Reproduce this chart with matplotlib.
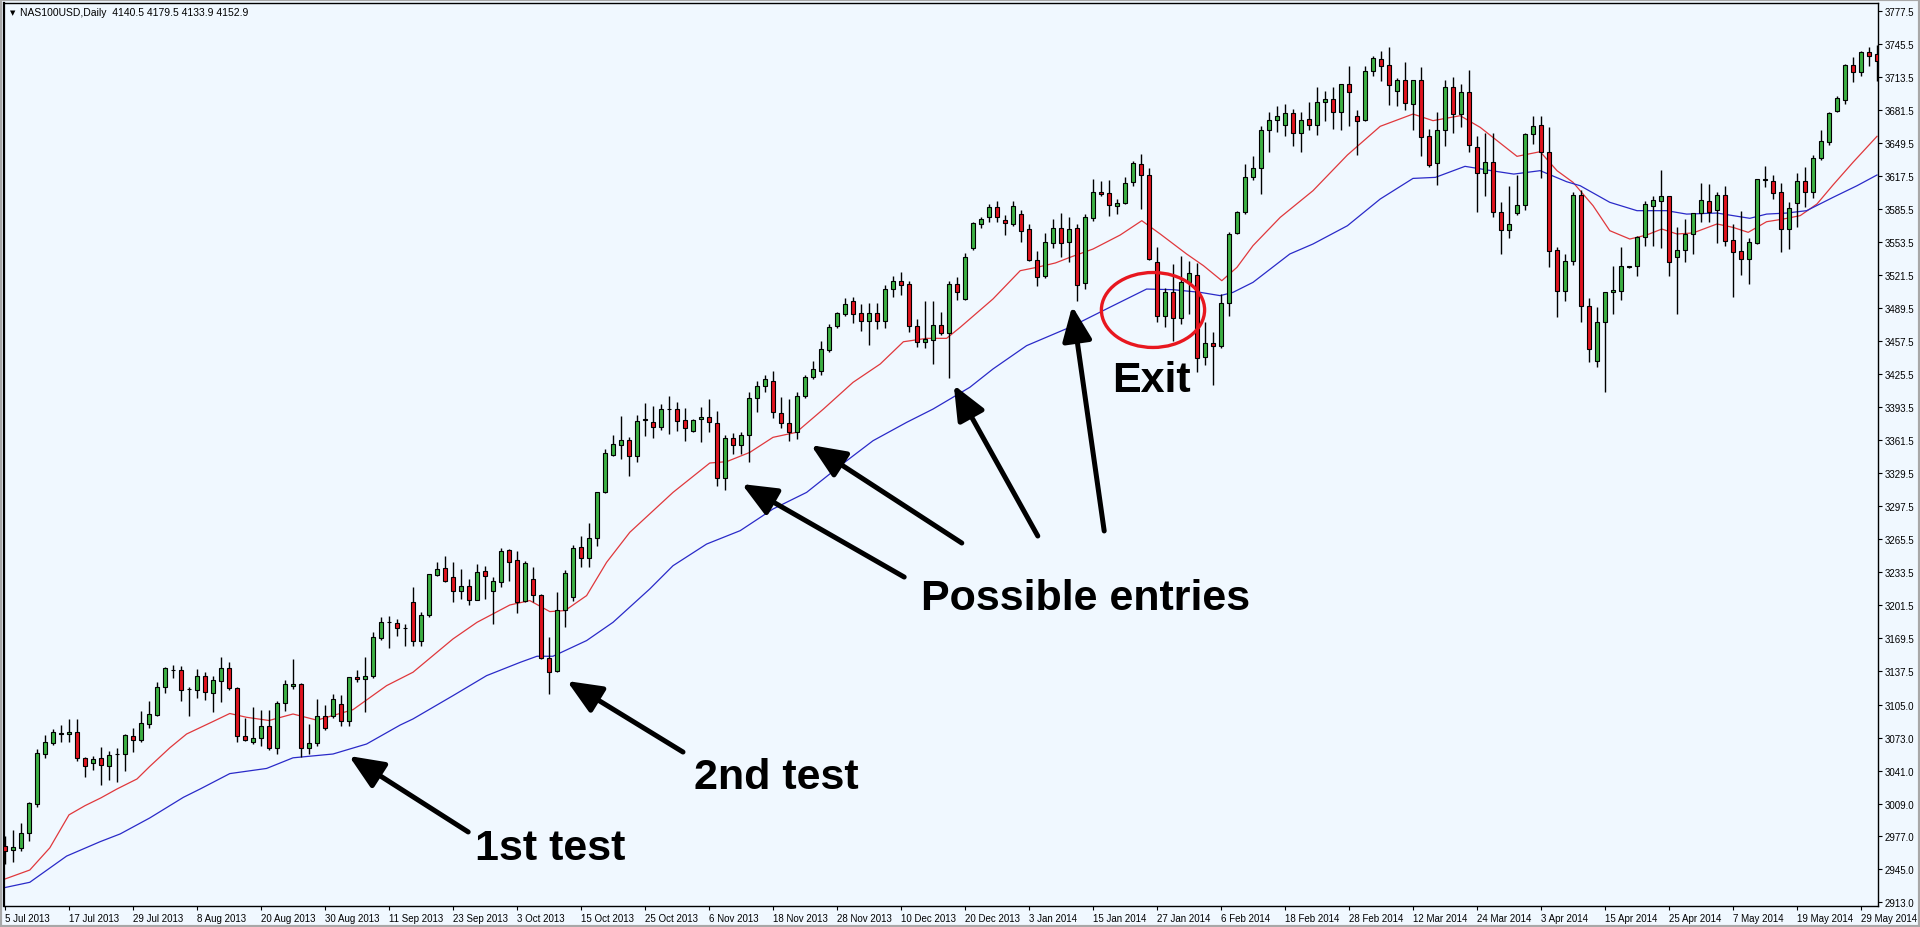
import matplotlib
matplotlib.use('Agg')
import matplotlib.pyplot as plt
from matplotlib.patches import Ellipse, FancyArrowPatch, Rectangle, ArrowStyle
import numpy as np

# daily candles (one per trading day, 5 Jul 2013 .. early Jun 2014)
opens = [
    2968.2, 2964.3, 2965.9, 2980.1, 3008.2, 3057.1, 3067.4, 3076.8, 3076.1, 3078.1,
    3052.8, 3048.0, 3052.8, 3045.7, 3057.0, 3057.4, 3074.2, 3071.0, 3086.5, 3095.2,
    3121.7, 3138.5, 3138.2, 3120.1, 3119.4, 3132.4, 3115.9, 3128.2, 3140.1, 3120.7,
    3074.2, 3068.4, 3072.2, 3083.9, 3062.5, 3106.5, 3123.4, 3125.3, 3062.5, 3067.4,
    3093.6, 3093.6, 3105.5, 3089.3, 3132.0, 3129.5, 3132.4, 3169.5, 3184.8, 3183.8,
    3178.9, 3204.8, 3166.9, 3191.9, 3231.0, 3237.1, 3228.4, 3215.5, 3219.6, 3206.7,
    3234.2, 3215.5, 3224.2, 3254.9, 3245.2, 3205.4, 3226.8, 3211.2, 3150.1, 3137.9,
    3196.4, 3209.6, 3257.4, 3246.8, 3266.5, 3310.8, 3347.0, 3357.0, 3361.9, 3346.3,
    3381.2, 3378.6, 3373.8, 3391.4, 3391.5, 3380.6, 3369.9, 3381.5, 3383.8, 3377.6,
    3324.6, 3363.1, 3357.0, 3366.3, 3401.9, 3413.5, 3418.4, 3387.7, 3378.0, 3368.9,
    3403.8, 3422.9, 3428.7, 3449.1, 3471.7, 3483.7, 3496.6, 3484.6, 3477.2, 3484.6,
    3477.2, 3508.0, 3516.0, 3513.0, 3471.7, 3456.8, 3458.8, 3473.0, 3465.2, 3513.0,
    3498.3, 3547.4, 3571.0, 3577.4, 3587.1, 3574.8, 3571.0, 3580.7, 3566.1, 3536.1,
    3520.2, 3552.8, 3566.8, 3553.2, 3566.8, 3513.8, 3576.5, 3602.3, 3601.0, 3588.1,
    3591.0, 3611.4, 3629.2, 3618.5, 3533.8, 3481.4, 3504.7, 3479.5, 3514.4, 3521.5,
    3441.7, 3455.6, 3452.4, 3494.4, 3562.3, 3582.3, 3616.2, 3624.9, 3662.0, 3672.0,
    3666.9, 3678.6, 3658.9, 3672.8, 3667.3, 3688.9, 3692.2, 3679.9, 3706.7, 3675.4,
    3672.1, 3719.0, 3731.0, 3725.1, 3700.3, 3710.6, 3687.0, 3710.6, 3656.0, 3629.8,
    3662.1, 3703.5, 3677.6, 3698.6, 3645.3, 3620.4, 3630.8, 3582.3, 3565.1, 3581.3,
    3589.4, 3658.2, 3667.0, 3641.1, 3546.1, 3505.7, 3535.4, 3599.1, 3491.8, 3438.6,
    3476.3, 3504.7, 3506.3, 3529.6, 3530.6, 3558.0, 3588.8, 3593.6, 3597.8, 3539.3,
    3545.8, 3561.3, 3581.6, 3592.9, 3584.9, 3599.4, 3555.5, 3545.1, 3537.0, 3552.6,
    3614.0, 3612.3, 3601.7, 3566.1, 3591.3, 3613.0, 3601.7, 3634.6, 3650.8, 3680.9,
    3691.5, 3725.1, 3718.7, 3738.1, 3735.8,
]
highs = [
    2977.2, 2983.7, 2990.1, 3010.2, 3061.9, 3075.5, 3081.3, 3085.2, 3091.0, 3091.0,
    3053.8, 3054.8, 3063.5, 3060.3, 3062.5, 3076.5, 3082.6, 3098.7, 3108.8, 3127.2,
    3141.0, 3143.7, 3142.7, 3121.5, 3139.5, 3136.9, 3133.0, 3151.1, 3146.6, 3121.5,
    3091.6, 3102.3, 3100.0, 3100.0, 3108.8, 3129.1, 3149.2, 3126.0, 3086.1, 3110.4,
    3104.6, 3115.3, 3114.3, 3132.0, 3138.8, 3151.4, 3175.7, 3189.6, 3190.6, 3188.0,
    3183.0, 3218.7, 3195.1, 3232.0, 3243.6, 3248.7, 3242.9, 3236.5, 3226.8, 3241.3,
    3239.7, 3228.4, 3256.5, 3255.9, 3254.2, 3244.0, 3238.1, 3212.0, 3170.2, 3214.5,
    3235.8, 3260.0, 3268.8, 3281.0, 3311.0, 3352.8, 3366.4, 3385.0, 3364.1, 3386.0,
    3397.4, 3394.1, 3396.4, 3404.5, 3398.7, 3392.2, 3382.0, 3393.2, 3401.2, 3389.9,
    3366.3, 3368.0, 3368.9, 3408.3, 3419.0, 3424.5, 3428.7, 3402.9, 3401.2, 3408.3,
    3424.5, 3438.4, 3457.8, 3474.0, 3485.9, 3499.0, 3500.0, 3493.4, 3494.3, 3494.0,
    3512.0, 3521.0, 3524.0, 3516.0, 3478.8, 3496.6, 3496.6, 3485.3, 3516.0, 3520.0,
    3542.9, 3572.5, 3577.4, 3590.4, 3593.6, 3579.7, 3593.6, 3584.9, 3571.0, 3545.1,
    3562.3, 3575.8, 3581.6, 3577.4, 3571.0, 3580.7, 3614.6, 3613.0, 3614.0, 3595.0,
    3616.2, 3632.4, 3638.9, 3624.9, 3548.4, 3508.6, 3532.2, 3540.3, 3535.4, 3533.2,
    3476.3, 3466.6, 3503.1, 3563.5, 3584.0, 3629.2, 3637.2, 3666.0, 3680.0, 3685.0,
    3687.3, 3682.5, 3679.9, 3689.6, 3703.5, 3700.2, 3703.5, 3707.0, 3724.5, 3681.8,
    3724.5, 3734.2, 3739.0, 3742.3, 3712.2, 3728.4, 3711.0, 3722.9, 3663.1, 3679.9,
    3710.9, 3713.2, 3706.7, 3720.6, 3656.6, 3659.2, 3659.2, 3592.6, 3608.1, 3618.5,
    3659.0, 3675.4, 3676.0, 3664.7, 3548.4, 3541.9, 3601.7, 3604.3, 3498.9, 3490.2,
    3505.5, 3530.6, 3548.4, 3530.6, 3559.0, 3593.6, 3598.5, 3623.7, 3598.5, 3567.7,
    3575.8, 3582.0, 3610.7, 3610.0, 3602.3, 3608.1, 3570.9, 3583.9, 3557.0, 3615.0,
    3627.5, 3618.5, 3610.7, 3592.6, 3620.4, 3625.9, 3637.9, 3662.4, 3680.0, 3695.4,
    3726.0, 3732.6, 3739.0, 3742.3, 3744.5,
]
lows = [
    2950.0, 2952.6, 2963.3, 2973.0, 3006.0, 3052.8, 3066.0, 3068.4, 3069.0, 3050.6,
    3034.4, 3041.9, 3027.0, 3032.2, 3029.6, 3040.9, 3059.3, 3068.4, 3081.9, 3094.0,
    3115.9, 3130.4, 3108.8, 3093.6, 3111.0, 3109.4, 3097.4, 3107.1, 3119.0, 3069.0,
    3070.0, 3066.7, 3065.1, 3061.2, 3057.1, 3099.1, 3120.1, 3053.8, 3057.1, 3064.5,
    3080.0, 3092.0, 3084.5, 3084.5, 3126.6, 3097.5, 3131.0, 3167.9, 3159.5, 3171.2,
    3162.1, 3162.1, 3162.0, 3189.6, 3230.0, 3223.5, 3204.1, 3207.4, 3201.6, 3206.0,
    3207.4, 3183.1, 3218.7, 3225.1, 3193.8, 3204.0, 3204.8, 3149.0, 3115.3, 3136.5,
    3179.9, 3205.0, 3238.1, 3238.0, 3259.1, 3310.0, 3346.0, 3343.1, 3326.3, 3339.9,
    3365.7, 3363.1, 3371.5, 3367.3, 3370.5, 3360.8, 3368.9, 3359.2, 3369.6, 3316.6,
    3313.3, 3347.9, 3348.0, 3340.5, 3389.0, 3407.7, 3382.5, 3372.8, 3360.8, 3362.5,
    3401.9, 3421.0, 3425.0, 3446.5, 3469.8, 3482.0, 3474.9, 3467.5, 3453.6, 3469.0,
    3470.0, 3500.0, 3502.0, 3466.0, 3451.3, 3450.4, 3435.2, 3463.3, 3421.3, 3497.0,
    3497.0, 3546.0, 3566.8, 3573.2, 3572.6, 3560.3, 3568.7, 3553.9, 3535.5, 3510.5,
    3519.0, 3547.4, 3538.6, 3533.8, 3496.6, 3508.0, 3574.2, 3597.8, 3578.4, 3580.6,
    3590.0, 3608.1, 3585.5, 3536.0, 3476.3, 3470.8, 3457.8, 3474.0, 3483.7, 3427.8,
    3434.3, 3414.9, 3450.4, 3482.1, 3561.0, 3581.0, 3614.0, 3600.1, 3640.5, 3660.0,
    3656.0, 3646.9, 3640.5, 3662.4, 3657.0, 3671.2, 3663.1, 3662.0, 3665.7, 3637.9,
    3671.0, 3714.2, 3710.0, 3686.4, 3685.1, 3681.8, 3662.4, 3637.2, 3625.9, 3608.8,
    3647.0, 3659.2, 3664.7, 3640.5, 3582.3, 3597.8, 3577.4, 3541.9, 3557.1, 3580.0,
    3584.9, 3648.5, 3615.2, 3528.9, 3480.5, 3496.6, 3531.2, 3475.6, 3437.5, 3432.0,
    3408.0, 3483.7, 3497.6, 3528.6, 3520.9, 3550.0, 3549.3, 3547.4, 3520.9, 3483.7,
    3533.8, 3541.9, 3573.2, 3573.2, 3552.6, 3550.0, 3499.9, 3521.5, 3512.8, 3552.0,
    3606.5, 3595.2, 3543.5, 3546.7, 3567.7, 3587.1, 3595.9, 3633.0, 3647.5, 3679.2,
    3687.3, 3709.0, 3714.8, 3723.8, 3710.0,
]
closes = [
    2962.7, 2966.5, 2980.4, 3009.5, 3058.0, 3068.4, 3078.1, 3077.0, 3078.1, 3052.8,
    3045.7, 3051.9, 3046.7, 3055.8, 3057.1, 3075.5, 3071.0, 3086.8, 3095.5, 3121.7,
    3140.1, 3138.0, 3119.4, 3120.0, 3132.4, 3117.5, 3128.5, 3140.1, 3120.7, 3074.2,
    3071.0, 3072.2, 3083.9, 3062.5, 3106.5, 3124.6, 3125.3, 3062.5, 3067.4, 3093.6,
    3081.9, 3110.4, 3089.3, 3131.4, 3129.5, 3132.7, 3170.2, 3185.4, 3184.9, 3178.9,
    3179.0, 3166.9, 3191.9, 3231.3, 3236.5, 3224.8, 3215.5, 3219.6, 3206.7, 3233.9,
    3230.0, 3224.5, 3253.6, 3243.6, 3204.8, 3242.3, 3211.2, 3149.8, 3136.9, 3196.7,
    3232.6, 3257.1, 3246.8, 3266.5, 3310.8, 3348.6, 3357.7, 3361.9, 3345.7, 3380.3,
    3381.4, 3373.8, 3391.5, 3391.6, 3380.2, 3372.8, 3380.6, 3383.8, 3378.6, 3324.6,
    3363.1, 3357.0, 3366.3, 3401.9, 3413.5, 3420.6, 3388.3, 3378.0, 3368.9, 3403.8,
    3422.9, 3430.3, 3449.7, 3470.7, 3484.6, 3493.4, 3483.7, 3477.2, 3484.6, 3477.2,
    3508.0, 3516.0, 3512.0, 3471.7, 3456.2, 3459.4, 3473.0, 3465.2, 3513.0, 3505.0,
    3538.7, 3571.6, 3575.8, 3587.8, 3577.4, 3571.9, 3588.8, 3564.5, 3536.4, 3519.3,
    3553.2, 3566.8, 3552.6, 3566.1, 3512.2, 3577.4, 3601.7, 3600.1, 3589.4, 3591.0,
    3610.7, 3630.1, 3618.5, 3537.0, 3481.4, 3504.7, 3479.5, 3514.4, 3523.5, 3440.7,
    3455.6, 3452.4, 3494.4, 3561.3, 3582.3, 3616.2, 3624.9, 3662.0, 3672.0, 3676.0,
    3678.6, 3658.9, 3671.8, 3667.0, 3689.6, 3692.2, 3679.9, 3706.7, 3699.3, 3671.2,
    3719.0, 3731.6, 3724.5, 3706.1, 3710.6, 3688.0, 3710.6, 3655.6, 3628.2, 3662.4,
    3703.5, 3677.6, 3698.6, 3647.6, 3620.4, 3630.8, 3582.3, 3565.1, 3571.0, 3589.4,
    3658.2, 3666.3, 3641.1, 3545.1, 3505.7, 3535.4, 3599.1, 3491.8, 3449.8, 3475.6,
    3504.7, 3507.0, 3529.9, 3529.7, 3558.0, 3590.4, 3594.2, 3597.8, 3533.8, 3545.8,
    3561.3, 3581.6, 3594.2, 3582.9, 3599.4, 3554.8, 3544.2, 3537.0, 3553.8, 3614.6,
    3614.1, 3601.0, 3566.1, 3586.1, 3613.0, 3601.7, 3634.6, 3651.1, 3678.6, 3692.8,
    3725.1, 3718.7, 3738.1, 3733.6, 3729.3,
]

# moving averages, sampled along the drawn lines (x = candle number)
red_ma_x = [0, 3.1, 5.6, 8, 10, 12, 14, 16.5, 18.1, 20.6, 22.7, 26, 28.1, 30.2, 33, 36, 39,
            43.5, 47.7, 51, 56, 59, 63.1, 65.6, 68.1, 70, 72.7, 75.2, 78.1, 83.5, 88.1,
            90.2, 93.1, 96, 98.9, 102.3, 106, 109.4, 112.3, 115.2, 117.7, 119.4, 123.5,
            126.9, 129, 131.3, 133.1, 136, 139.4, 142.1, 144.4, 147.7, 149.8, 152.1, 154,
            156, 159.4, 163.5, 167.8, 171.9, 176, 178.5, 181.9, 184.4, 189, 191.9, 194,
            196, 198.5, 200.6, 203.1, 205.2, 207.1, 209, 211, 214, 216, 217.9, 220.2,
            222.3, 224.4, 226.5, 228.5, 231, 234]
red_ma = [2935.8, 2944.5, 2966.0, 2998.0, 3006.9, 3014.5, 3023.1, 3032.8, 3045.0, 3063.0,
          3076.4, 3088.5, 3096.3, 3092.6, 3089.5, 3095.8, 3089.8, 3100.0, 3123.3, 3136.3,
          3168.6, 3184.7, 3201.5, 3205.8, 3195.1, 3196.1, 3210.6, 3242.9, 3272.0, 3310.7,
          3339.2, 3340.5, 3349.5, 3364.1, 3368.9, 3391.5, 3417.4, 3435.2, 3456.8, 3460.1,
          3460.1, 3470.8, 3498.3, 3525.7, 3529.0, 3533.2, 3538.6, 3546.7, 3560.3, 3574.2,
          3561.3, 3541.9, 3530.6, 3516.0, 3529.0, 3550.0, 3577.4, 3603.3, 3637.9, 3665.7,
          3677.6, 3671.2, 3676.0, 3664.7, 3636.6, 3641.1, 3622.7, 3611.4, 3588.8, 3564.5,
          3556.4, 3560.3, 3566.1, 3561.3, 3562.3, 3571.0, 3567.7, 3562.9, 3573.2, 3575.8,
          3579.1, 3590.4, 3608.8, 3630.8, 3656.0]

blue_ma_x = [0, 3.1, 7.7, 11.9, 14.4, 18.1, 22.3, 24.4, 28.1, 32.7, 36, 41, 45.2, 49.4, 51,
             56, 60.2, 64.4, 66.5, 68.5, 72.7, 76, 80.6, 83.5, 87.7, 91.9, 96, 100.2, 104.4,
             108.5, 112.7, 116, 120.6, 123.5, 127.7, 133.1, 138.1, 142.7, 146, 149.4, 151.9,
             153.5, 156, 160.6, 163.5, 167.8, 171.9, 176, 178.8, 182.5, 185.8, 188.6, 191.9,
             195.2, 196.9, 200.6, 204, 207.7, 210.2, 214, 218.1, 220.2, 222.7, 225.2, 228.5,
             231.5, 234]
blue_ma = [2927.5, 2932.6, 2958.0, 2972.0, 2979.5, 2995.0, 3015.0, 3023.1, 3038.0, 3043.0,
           3053.3, 3057.0, 3066.7, 3085.1, 3091.0, 3113.6, 3133.0, 3145.9, 3151.8, 3151.8,
           3167.0, 3184.7, 3217.1, 3239.6, 3260.6, 3273.6, 3294.6, 3310.7, 3336.6, 3360.8,
           3378.6, 3391.5, 3412.6, 3430.4, 3453.0, 3470.8, 3490.2, 3507.9, 3507.3, 3504.7,
           3501.5, 3504.7, 3514.4, 3541.9, 3551.6, 3569.3, 3595.2, 3615.2, 3616.2, 3626.9,
           3622.7, 3619.4, 3622.7, 3612.0, 3608.1, 3592.0, 3583.9, 3583.9, 3580.6, 3581.6,
           3576.5, 3580.6, 3581.6, 3583.9, 3596.8, 3608.1, 3618.5]

date_labels = ['5 Jul 2013', '17 Jul 2013', '29 Jul 2013', '8 Aug 2013', '20 Aug 2013',
               '30 Aug 2013', '11 Sep 2013', '23 Sep 2013', '3 Oct 2013', '15 Oct 2013',
               '25 Oct 2013', '6 Nov 2013', '18 Nov 2013', '28 Nov 2013', '10 Dec 2013',
               '20 Dec 2013', '3 Jan 2014', '15 Jan 2014', '27 Jan 2014', '6 Feb 2014',
               '18 Feb 2014', '28 Feb 2014', '12 Mar 2014', '24 Mar 2014', '3 Apr 2014',
               '15 Apr 2014', '25 Apr 2014', '7 May 2014', '19 May 2014', '29 May 2014']
price_labels = ['3777.5', '3745.5', '3713.5', '3681.5', '3649.5', '3617.5', '3585.5',
                '3553.5', '3521.5', '3489.5', '3457.5', '3425.5', '3393.5', '3361.5',
                '3329.5', '3297.5', '3265.5', '3233.5', '3201.5', '3169.5', '3137.5',
                '3105.0', '3073.0', '3041.0', '3009.0', '2977.0', '2945.0', '2913.0']

BG = '#f0f8ff'
BULL = '#3cb043'
BEAR = '#e0141e'

plt.rcParams['font.family'] = ['Liberation Sans', 'DejaVu Sans']

fig = plt.figure(figsize=(19.2, 9.28), dpi=100, facecolor=BG)
ax = fig.add_axes([4 / 1920, 21 / 928, 1874 / 1920, 903 / 928])
ax.set_facecolor(BG)

o = np.array(opens)
h = np.array(highs)
l = np.array(lows)
c = np.array(closes)
x = np.arange(len(o))

# moving averages sit under the candles
ax.plot(red_ma_x, red_ma, color='#e0383c', lw=0.9, zorder=1.5)
ax.plot(blue_ma_x, blue_ma, color='#2a2ac8', lw=0.9, zorder=1.5)

# wicks + bodies
ax.vlines(x, l, h, color='black', lw=1.0, zorder=2)
body = np.abs(c - o)
cols = np.where(c >= o, BULL, BEAR)
cols = np.where(body < 1.0, 'black', cols)
ax.bar(x, np.maximum(body, 0.4), bottom=np.minimum(o, c), width=0.62,
       color=cols, edgecolor='black', linewidth=0.8, zorder=3)

ax.set_xlim(-0.125, 234.125)
ax.set_ylim(2909.6, 3785.3)

ax.yaxis.tick_right()
ax.set_yticks([float(s) for s in price_labels], price_labels)
ax.set_xticks(range(0, 8 * len(date_labels), 8), date_labels)
for t in ax.get_xticklabels():
    t.set_horizontalalignment('left')
ax.tick_params(axis='both', labelsize=7, length=3, width=0.8, color='black', pad=2)
for s in ax.spines.values():
    s.set_color('black')
    s.set_linewidth(1.0)
ax.spines['left'].set_linewidth(1.6)

# exit circle
ax.add_patch(Ellipse((143.5, 3487.6), width=12.9, height=72.7, fill=False,
                     edgecolor='#e8171f', lw=2.4, zorder=6))

# arrows (tail -> head)
arrows = [
    ((57.9, 2981.4), (43.0, 3055.1)),
    ((84.75, 3058.9), (70.25, 3127.8)),
    ((112.4, 3228.6), (92.1, 3318.8)),
    ((119.6, 3261.6), (100.75, 3356.6)),
    ((129.1, 3268.4), (118.6, 3414.8)),
    ((137.4, 3273.3), (133.4, 3491.4)),
]
style = ArrowStyle('-|>', head_length=0.42, head_width=0.18)
for tail, head in arrows:
    ax.add_patch(FancyArrowPatch(tail, head, arrowstyle=style, mutation_scale=50,
                                 color='black', lw=3.6, shrinkA=0, shrinkB=0, zorder=7))

bold = dict(fontsize=31, fontweight='bold', color='black', va='baseline', ha='left', zorder=8)
ax.text(138.4, 3409.0, 'Exit', **bold)
ax.text(114.5, 3197.6, 'Possible entries', **bold)
ax.text(86.1, 3024.0, '2nd test', **bold)
ax.text(58.75, 2955.2, '1st test', **bold)

# header
fig.text(10 / 1920, 1 - 13 / 928, '\u25bc', fontsize=5, family='DejaVu Sans', va='center')
fig.text(20 / 1920, 1 - 13 / 928, 'NAS100USD,Daily  4140.5 4179.5 4133.9 4152.9',
         fontsize=7.5, va='center')

# window frame
fig.patches.append(Rectangle((0, 0), 1, 1, transform=fig.transFigure, fill=False,
                             edgecolor='#a8a8a8', lw=3))

fig.savefig('out.png', dpi=100, facecolor=BG)
